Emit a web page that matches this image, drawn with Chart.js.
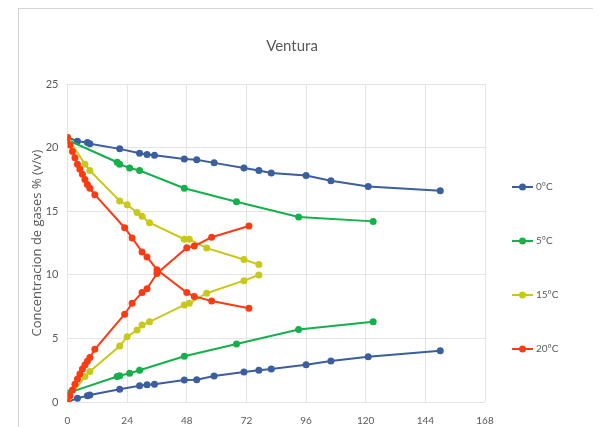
<!DOCTYPE html>
<html>
<head>
<meta charset="utf-8">
<script src="https://cdn.jsdelivr.net/npm/chart.js@4.4.0/dist/chart.umd.min.js"></script>
<style>
  html, body { margin: 0; padding: 0; background: #fff; }
  #wrap { position: relative; width: 600px; height: 427px; overflow: hidden; }
  #frame { position: absolute; left: 18px; top: 8px; width: 574px; height: 440px;
           border-left: 1px solid #d4d4d4; border-top: 1px solid #d4d4d4; }
  canvas { position: absolute; left: 0; top: 0; }
</style>
</head>
<body>
<div id="wrap">
  <div id="frame"></div>
  <canvas id="chart" width="600" height="427"></canvas>
</div>
<script>
// Ventura: O2 falls, CO2 rises, one pair of curves per storage temperature
const tempLabels = ['0°C', '5°C', '15°C', '20°C'];
const tempColors = ['#3a5e9e', '#14b04c', '#c8c81a', '#fa3c14'];

const hours0 = [0, 4, 8, 9, 21, 29, 32, 35, 47, 52, 59, 71, 77, 82, 96, 106, 121, 150];
const o2_0  = [20.8, 20.5, 20.4, 20.3, 19.9, 19.55, 19.45, 19.4, 19.1, 19.05, 18.8, 18.4, 18.2, 18.0, 17.8, 17.4, 16.95, 16.6];
const co2_0 = [0.0, 0.3, 0.5, 0.55, 1.0, 1.28, 1.36, 1.4, 1.73, 1.75, 2.04, 2.36, 2.5, 2.6, 2.93, 3.22, 3.56, 4.03];

const hours5 = [0, 20, 21, 25, 29, 47, 68, 93, 123];
const o2_5  = [20.6, 18.85, 18.7, 18.4, 18.2, 16.8, 15.75, 14.55, 14.2];
const co2_5 = [0.7, 2.0, 2.07, 2.26, 2.5, 3.6, 4.56, 5.7, 6.3];

const hours15 = [0, 7, 9, 21, 24, 28, 30, 33, 47, 49, 56, 71, 77];
const o2_15  = [20.8, 18.7, 18.2, 15.8, 15.5, 14.9, 14.6, 14.1, 12.8, 12.8, 12.1, 11.2, 10.8];
const co2_15 = [0.2, 2.0, 2.4, 4.4, 5.13, 5.66, 6.05, 6.3, 7.63, 7.76, 8.55, 9.54, 9.98];

const hours20 = [0, 1, 2, 3, 4, 5, 6, 7, 8, 9, 11, 23, 26, 30, 32, 36, 48, 51, 58, 73];
const o2_20  = [20.8, 20.2, 19.7, 19.2, 18.7, 18.3, 17.9, 17.5, 17.1, 16.8, 16.3, 13.7, 12.9, 11.8, 11.4, 10.4, 8.6, 8.3, 7.94, 7.37];
const co2_20 = [0.0, 0.5, 0.95, 1.4, 1.8, 2.2, 2.6, 2.9, 3.2, 3.5, 4.14, 6.9, 7.76, 8.6, 8.9, 10.1, 12.13, 12.26, 12.95, 13.84];

const xTicks = [0, 24, 48, 72, 96, 120, 144, 168];
const yTicks = [0, 5, 10, 15, 20, 25];

const FONT = 'Lato';
const TEXT = '#595959';

const seriesTable = [
  { hours: hours0, o2: o2_0, co2: co2_0 },
  { hours: hours5, o2: o2_5, co2: co2_5 },
  { hours: hours15, o2: o2_15, co2: co2_15 },
  { hours: hours20, o2: o2_20, co2: co2_20 }
];

const toPoints = (xs, ys) => xs.map((x, i) => ({ x: x, y: ys[i] }));

const datasets = [];
seriesTable.forEach((s, i) => {
  const common = {
    label: tempLabels[i],
    borderColor: tempColors[i],
    backgroundColor: tempColors[i],
    borderWidth: 2,
    pointRadius: 3.5,
    pointHoverRadius: 3.5,
    pointBorderWidth: 0,
    tension: 0,
    order: 4 - i // red drawn on top
  };
  datasets.push(Object.assign({}, common, { data: toPoints(s.hours, s.o2) }));
  datasets.push(Object.assign({}, common, { data: toPoints(s.hours, s.co2), inLegend: false }));
});

// title and legend placed the way the spreadsheet laid them out
const excelFrame = {
  id: 'excelFrame',
  afterDraw(chart) {
    const ctx = chart.ctx;
    const area = chart.chartArea;
    ctx.save();
    ctx.fillStyle = TEXT;
    ctx.textBaseline = 'middle';
    ctx.textAlign = 'center';
    ctx.font = '15px ' + FONT;
    ctx.fillText('Ventura', 292, 46);

    ctx.textAlign = 'left';
    ctx.font = '10px ' + FONT;
    const items = chart.data.datasets.filter(d => d.inLegend !== false);
    items.forEach((d, i) => {
      const y = area.top + 103 + i * 54;
      const x = area.right + 27;
      ctx.strokeStyle = d.borderColor;
      ctx.lineWidth = 2;
      ctx.beginPath();
      ctx.moveTo(x, y);
      ctx.lineTo(x + 21, y);
      ctx.stroke();
      ctx.fillStyle = d.borderColor;
      ctx.beginPath();
      ctx.arc(x + 10.5, y, 3.5, 0, Math.PI * 2);
      ctx.fill();
      ctx.fillStyle = TEXT;
      ctx.fillText(d.label, x + 24, y);
    });
    ctx.restore();
  }
};

new Chart(document.getElementById('chart'), {
  type: 'line',
  data: { datasets: datasets },
  plugins: [excelFrame],
  options: {
    responsive: false,
    animation: false,
    layout: { padding: { left: 25, right: 115, top: 84, bottom: 0 } },
    scales: {
      x: {
        type: 'linear',
        min: xTicks[0],
        max: xTicks[xTicks.length - 1],
        afterBuildTicks: scale => { scale.ticks = xTicks.map(v => ({ value: v })); },
        afterFit: scale => { scale.height = 25; },
        ticks: { color: TEXT, font: { family: FONT, size: 10 }, padding: 13, maxRotation: 0 },
        grid: { color: '#e4e4e4', drawTicks: false },
        border: { display: false }
      },
      y: {
        min: yTicks[0],
        max: yTicks[yTicks.length - 1],
        afterBuildTicks: scale => { scale.ticks = yTicks.map(v => ({ value: v })); },
        afterFit: scale => { scale.width = 42.5; },
        ticks: { color: TEXT, font: { family: FONT, size: 11 }, padding: 9 },
        grid: { color: '#e4e4e4', drawTicks: false },
        border: { display: false },
        title: {
          display: true,
          text: 'Concentracion de gases % (v/v)',
          color: TEXT,
          font: { family: 'Open Sans', size: 13 },
          padding: { top: 4, bottom: 0 }
        }
      }
    },
    plugins: {
      legend: { display: false },
      title: { display: false },
      tooltip: { enabled: false }
    }
  }
});
</script>
</body>
</html>
